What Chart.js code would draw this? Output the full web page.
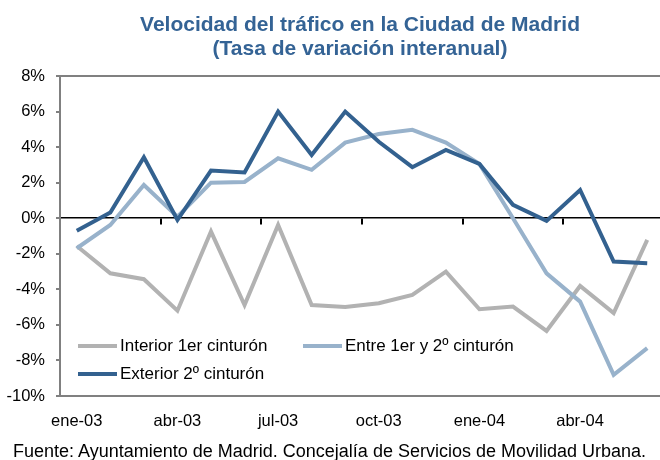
<!DOCTYPE html>
<html>
<head>
<meta charset="utf-8">
<script src="https://cdn.jsdelivr.net/npm/chart.js@4.4.1/dist/chart.umd.min.js"></script>
<style>
  html, body { margin: 0; padding: 0; background: #fff; }
  #marco { position: relative; width: 660px; height: 460px; overflow: hidden;
           font-family: 'Liberation Sans', Arial, Helvetica, sans-serif; }
  #grafico { position: absolute; left: 0; top: 0; }
  .titulo { position: absolute; left: 60px; width: 600px; text-align: center;
            font-weight: bold; font-size: 21px; line-height: 24px; color: #346395; white-space: nowrap; }
  #leyenda { position: absolute; left: 0; top: 0; }
  .leyenda { position: absolute; font-size: 17px; line-height: 20px; color: #000; white-space: nowrap; }
  .muestra { position: absolute; width: 39px; height: 4px; }
  #fuente { position: absolute; left: 13px; top: 441px; font-size: 18px; line-height: 21px; color: #000; white-space: nowrap; }
</style>
</head>
<body>
<div id="marco">
  <canvas id="grafico" width="664" height="460"></canvas>
  <div class="titulo" style="top:12px">Velocidad del tráfico en la Ciudad de Madrid</div>
  <div class="titulo" style="top:36px">(Tasa de variación interanual)</div>
  <div id="leyenda"></div>
  <div id="fuente">Fuente: Ayuntamiento de Madrid. Concejalía de Servicios de Movilidad Urbana.</div>
</div>
<script>
"use strict";

var meses = ["ene-03", "feb-03", "mar-03", "abr-03", "may-03", "jun-03", "jul-03", "ago-03", "sep-03",
             "oct-03", "nov-03", "dic-03", "ene-04", "feb-04", "mar-04", "abr-04", "may-04", "jun-04"];
var etiquetasEje = ["ene-03", "abr-03", "jul-03", "oct-03", "ene-04", "abr-04"];

var interior = [-1.56, -3.1, -3.43, -5.2, -0.75, -4.88, -0.38, -4.88, -5.0,
                -4.78, -4.31, -3.0, -5.12, -4.97, -6.34, -3.81, -5.34, -1.22];
var entre = [-1.69, -0.38, 1.87, 0.09, 2.0, 2.04, 3.37, 2.72, 4.25,
             4.74, 4.97, 4.25, 3.05, 0.0, -3.1, -4.69, -8.81, -7.31];
var exterior = [-0.7, 0.32, 3.43, -0.1, 2.68, 2.57, 6.0, 3.56, 6.0,
                4.3, 2.87, 3.84, 3.05, 0.75, -0.15, 1.59, -2.44, -2.53];

var series = [
    { nombre: "Interior 1er cinturón", datos: interior, color: "#B2B2B2", orden: 3 },
    { nombre: "Entre 1er y 2º cinturón", datos: entre, color: "#98B2CB", orden: 2 },
    { nombre: "Exterior 2º cinturón", datos: exterior, color: "#33618F", orden: 1 }
];

// posiciones de la leyenda (dentro del area del grafico)
var posLeyenda = [
    { x: 78, y: 346 },
    { x: 303, y: 346 },
    { x: 78, y: 374 }
];

Chart.defaults.font.family = "'Liberation Sans', Arial, Helvetica, sans-serif";
Chart.defaults.color = "#000";

function getConfig() {
    var datasets = series.map(function (s) {
        return {
            label: s.nombre,
            data: s.datos,
            borderColor: s.color,
            backgroundColor: s.color,
            borderWidth: 4,
            pointRadius: 0,
            tension: 0,
            order: s.orden
        };
    });

    return {
        type: 'line',
        data: { labels: meses, datasets: datasets },
        options: {
            responsive: false,
            animation: false,
            layout: { padding: { top: 76, left: 0, right: 0, bottom: 0 } },
            plugins: { legend: { display: false }, tooltip: { enabled: false } },
            scales: {
                x: {
                    type: 'category',
                    offset: true,
                    grid: { drawOnChartArea: false, drawTicks: false, color: 'rgba(0,0,0,0)' },
                    border: { color: '#808080', width: 2 },
                    ticks: {
                        autoSkip: false,
                        maxRotation: 0,
                        padding: 16,
                        font: { size: 16.5 },
                        callback: function (val, i) {
                            var m = meses[i];
                            return etiquetasEje.indexOf(m) >= 0 ? m : '';
                        }
                    },
                    afterFit: function (scale) { scale.height = 64; }
                },
                // eje en el 0% con marcas trimestrales
                x2: {
                    axis: 'x',
                    type: 'category',
                    labels: meses,
                    offset: true,
                    position: { y: 0 },
                    ticks: { display: false },
                    grid: {
                        offset: true,
                        drawOnChartArea: false,
                        tickLength: 6,
                        lineWidth: 2,
                        color: 'rgba(0,0,0,0)',
                        tickColor: function (ctx) {
                            return (ctx.index > 0 && ctx.index % 3 === 0) ? '#000' : 'rgba(0,0,0,0)';
                        }
                    },
                    border: { color: '#000', width: 1.5 }
                },
                y: {
                    min: -10,
                    max: 8,
                    ticks: {
                        stepSize: 2,
                        padding: 11,
                        font: { size: 16.5 },
                        callback: function (v) { return v + '%'; }
                    },
                    grid: {
                        tickLength: 4,
                        lineWidth: 2,
                        tickColor: '#808080',
                        color: function (ctx) {
                            return (ctx.tick && ctx.tick.value === 8) ? '#808080' : 'rgba(0,0,0,0)';
                        }
                    },
                    border: { color: '#808080', width: 2 },
                    afterFit: function (scale) { scale.width = 60; }
                }
            }
        }
    };
}

function dibujarLeyenda() {
    var cont = document.getElementById("leyenda");
    series.forEach(function (s, i) {
        var p = posLeyenda[i];
        var m = document.createElement("div");
        m.className = "muestra";
        m.style.left = p.x + "px";
        m.style.top = (p.y - 2.5) + "px";
        m.style.background = s.color;
        cont.appendChild(m);
        var t = document.createElement("div");
        t.className = "leyenda";
        t.style.left = (p.x + 42) + "px";
        t.style.top = (p.y - 10) + "px";
        t.textContent = s.nombre;
        cont.appendChild(t);
    });
}

new Chart(document.getElementById("grafico").getContext("2d"), getConfig());
dibujarLeyenda();
</script>
</body>
</html>
